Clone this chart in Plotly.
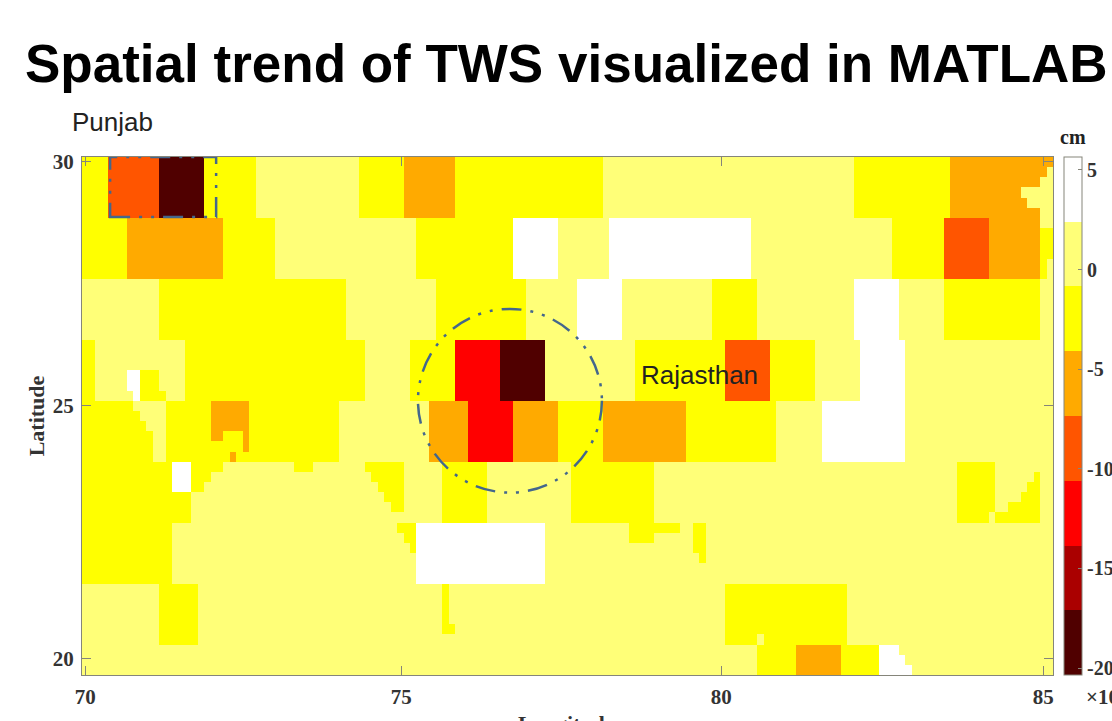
import plotly.graph_objects as go

# class values (cm)
W, L, Y, O, R, E, D, K = 4.0, 0.8, -2.5, -5.7, -9.0, -12.2, -15.5, -18.7

# grid of the trend map, north to south, west to east
lon_start, lon_step, n_lon = 69.95, 0.10068, 151
lat_start, lat_step, n_lat = 30.1, 0.2046, 51

# (first row, row count, [(end column, value), ...])
bands = [
    (0, 6, [(4, Y), (12, R), (19, K), (27, Y), (43, L), (50, Y), (58, O), (81, Y), (120, L), (135, Y), (151, O)]),
    (6, 6, [(7, Y), (22, O), (30, Y), (52, L), (67, Y), (74, W), (82, L), (104, W), (126, L), (134, Y), (141, R), (149, O), (151, L)]),
    (12, 6, [(12, L), (41, Y), (55, L), (69, Y), (77, L), (84, W), (98, L), (105, Y), (120, L), (127, W), (134, L), (149, Y), (151, L)]),
    (18, 6, [(2, Y), (16, L), (44, Y), (51, L), (58, Y), (65, E), (72, K), (86, L), (100, Y), (107, R), (114, Y), (121, L), (128, W), (151, L)]),
    (24, 6, [(11, Y), (13, L), (40, Y), (54, L), (60, O), (67, E), (74, O), (81, Y), (94, O), (108, Y), (115, L), (128, W), (151, L)]),
    (30, 6, [(17, Y), (56, L), (63, Y), (76, L), (89, Y), (136, L), (142, Y), (151, L)]),
    (36, 6, [(14, Y), (52, L), (72, W), (151, L)]),
    (42, 6, [(12, L), (18, Y), (100, L), (119, Y), (151, L)]),
    (48, 3, [(105, L), (111, Y), (118, O), (124, Y), (129, L), (151, L)]),
]

# finer details: (first row, end row, first column, end column, value)
details = [
    (1, 2, 150, 151, L), (2, 3, 149, 151, L), (3, 4, 146, 151, L), (4, 5, 147, 151, L), (5, 6, 149, 151, L),
    (7, 10, 149, 151, Y), (10, 12, 149, 150, Y),
    (21, 23, 7, 9, W), (23, 24, 8, 9, W), (21, 23, 9, 12, Y), (23, 24, 9, 13, Y),
    (24, 25, 8, 13, L), (25, 26, 9, 13, L), (26, 27, 10, 13, L),
    (24, 27, 20, 26, O), (27, 28, 20, 22, O), (27, 29, 25, 26, O), (29, 30, 23, 24, O),
    (30, 33, 14, 17, W), (30, 31, 17, 22, Y), (31, 32, 17, 20, Y), (32, 33, 17, 19, Y),
    (30, 31, 33, 36, Y), (30, 31, 44, 50, Y), (31, 32, 45, 50, Y),
    (32, 33, 46, 50, Y), (33, 34, 47, 50, Y), (34, 35, 48, 50, Y),
    (36, 37, 49, 52, Y), (37, 38, 50, 52, Y), (38, 39, 51, 52, Y),
    (35, 36, 141, 142, L), (31, 32, 148, 149, Y), (32, 33, 147, 149, Y), (33, 34, 146, 149, Y),
    (34, 35, 144, 149, Y), (35, 36, 142, 149, Y),
    (36, 37, 85, 93, Y), (37, 38, 85, 89, Y), (36, 39, 95, 97, Y), (39, 40, 96, 97, Y),
    (42, 46, 56, 57, Y), (46, 47, 56, 58, Y), (47, 48, 105, 106, L),
    (48, 49, 124, 127, W), (49, 50, 124, 128, W), (50, 51, 124, 129, W),
]

lon = [lon_start + lon_step * (i + 0.5) for i in range(n_lon)]
lat = [lat_start - lat_step * (j + 0.5) for j in range(n_lat)]

z = [[L] * n_lon for _ in range(n_lat)]
for first, count, runs in bands:
    start = 0
    for end, value in runs:
        for r in range(first, first + count):
            for c in range(start, end):
                z[r][c] = value
        start = end
for r0, r1, c0, c1, value in details:
    for r in range(r0, r1):
        for c in range(c0, c1):
            z[r][c] = value

level_colors = ["#500000", "#AA0000", "#FF0000", "#FF5500", "#FFAA00", "#FFFF00", "#FFFF78", "#FFFFFF"]
z_min, z_max = -20.35, 5.65
colorscale = []
for i, color in enumerate(level_colors):
    colorscale += [[i / 8, color], [(i + 1) / 8, color]]

cbar_ticks = [5, 0, -5, -10, -15, -20]
cbar_labels = ["5", "0", "-5", "-10", "-15", "-20"]
x_ticks, x_labels = [70, 74.95, 79.96, 85], ["70", "75", "80", "85"]
y_ticks, y_labels = [30, 25.09, 20], ["30", "25", "20"]

serif = "Liberation Serif"
sans = "Liberation Sans"
axis_color = "#85857a"
tick_font = dict(family=serif, size=21, color="#333333", weight=700)
cbar_font = dict(family=serif, size=20, color="#333333", weight=700)
mark_color = "#44678c"
dash_style = "20px,9px,3px,9px,3px,9px"

fig = go.Figure(go.Heatmap(
    x=lon, y=lat, z=z, zmin=z_min, zmax=z_max, colorscale=colorscale,
    colorbar=dict(
        x=1.0113, xanchor="left", xpad=0, y=0, yanchor="bottom", ypad=0, len=1,
        thickness=18, outlinecolor=axis_color, outlinewidth=1, borderwidth=0,
        tickvals=cbar_ticks, ticktext=cbar_labels, ticks="inside", ticklen=4,
        tickcolor=axis_color, tickfont=cbar_font,
    ),
))

axis_common = dict(
    showgrid=False, zeroline=False, showline=True, linecolor=axis_color, linewidth=1,
    mirror="ticks", ticks="inside", ticklen=9, tickcolor=axis_color, tickwidth=1,
    tickfont=tick_font,
)
fig.update_layout(
    width=1112, height=721, autosize=False,
    margin=dict(l=82, r=59, t=157, b=46, autoexpand=False),
    paper_bgcolor="white", plot_bgcolor="white",
    title=dict(
        text="<b>Spatial trend of TWS visualized in MATLAB</b>",
        x=25 / 1112, xanchor="left", y=1 - 63 / 721, yanchor="middle",
        font=dict(family=sans, size=53, color="black"),
    ),
    xaxis=dict(
        range=[lon_start, lon_start + lon_step * n_lon], tickvals=x_ticks, ticktext=x_labels,
        ticklabelstandoff=3,
        **axis_common,
    ),
    yaxis=dict(
        range=[lat_start - lat_step * n_lat, lat_start], tickvals=y_ticks, ticktext=y_labels,
        ticklabelstandoff=3,
        title=dict(text="<b>Latitude</b>", font=dict(family=serif, size=22, color="#333333"), standoff=2),
        **axis_common,
    ),
    shapes=[
        dict(type="circle", xref="x", yref="y", x0=75.21, x1=78.09, y0=23.34, y1=27.04,
             line=dict(color=mark_color, width=2.5, dash=dash_style)),
        dict(type="rect", xref="x", yref="y", x0=70.39, x1=72.05, y0=28.89, y1=30.1,
             line=dict(color=mark_color, width=2.5, dash=dash_style)),
    ],
    annotations=[
        dict(text="Punjab", xref="paper", yref="paper", x=(70 - 82) / 971, y=(675 - 122) / 518,
             xanchor="left", yanchor="middle", showarrow=False, font=dict(family=sans, size=26, color="#222222")),
        dict(text="Rajasthan", xref="x", yref="y", x=78.67, y=25.71, xanchor="left", yanchor="middle",
             showarrow=False, font=dict(family=sans, size=26, color="#222222")),
        dict(text="<b>cm</b>", xref="paper", yref="paper", x=(1073 - 82) / 971, y=(675 - 137) / 518,
             xanchor="center", yanchor="middle", showarrow=False, font=dict(family=serif, size=20, color="#222222")),
        dict(text="<b>×10</b>", xref="paper", yref="paper", x=(1084 - 82) / 971, y=(675 - 697) / 518,
             xanchor="left", yanchor="middle", showarrow=False, font=tick_font),
        dict(text="<b>Longitude</b>", xref="paper", yref="paper", x=(566 - 82) / 971, y=(675 - 723) / 518,
             xanchor="center", yanchor="middle", showarrow=False, font=dict(family=serif, size=22, color="#333333")),
    ],
)

fig.write_html(
    "out.html",
    config=dict(displayModeBar=False),
    post_script="document.body.style.margin='0';document.documentElement.style.overflow='hidden';",
)
